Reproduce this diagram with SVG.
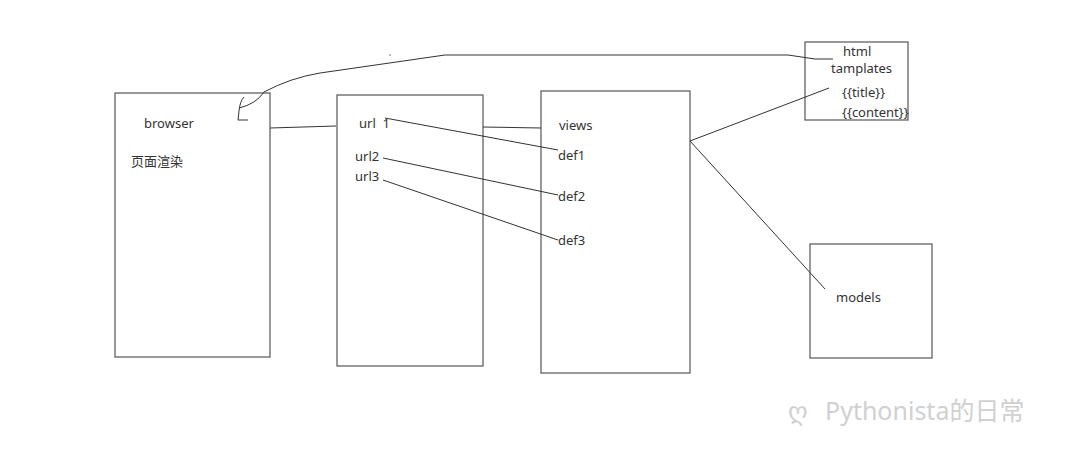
<svg xmlns="http://www.w3.org/2000/svg" width="1080" height="460" viewBox="0 0 1080 460">
<style>
.box{fill:#fff;stroke:#555;stroke-width:1.2}
.ln{fill:none;stroke:#333;stroke-width:1}
text{font-family:"Noto Sans","Noto Sans CJK SC",sans-serif;font-size:13px;fill:#333}
.wm{font-size:25px;fill:#d0d0d0}
</style>
<rect width="1080" height="460" fill="#fff"/>
<g id="browser">
<rect class="box" x="115" y="93" width="155" height="264"/>
<text x="144" y="128">browser</text>
<text x="131" y="166">页面渲染</text>
</g>
<g id="urls">
<rect class="box" x="337" y="95" width="146" height="271"/>
<text x="359" y="128" xml:space="preserve">url  1</text>
<text x="355" y="161">url2</text>
<text x="355" y="181">url3</text>
</g>
<g id="views">
<rect class="box" x="541" y="91" width="149" height="282"/>
<text x="559" y="130">views</text>
<text x="558" y="160">def1</text>
<text x="558" y="201">def2</text>
<text x="558" y="245">def3</text>
</g>
<g id="templates">
<rect class="box" x="805" y="42" width="103" height="78"/>
<text x="843" y="56" font-size="12.5">html</text>
<text x="831" y="73" font-size="12.5">tamplates</text>
<text x="842" y="97" font-size="11.5">{{title}}</text>
<text x="842" y="117" font-size="11.5">{{content}}</text>
</g>
<g id="models">
<rect class="box" x="810" y="244" width="122" height="114"/>
<text x="836" y="302">models</text>
</g>
<g id="connectors">
<path class="ln" d="M270,128 L336,126"/>
<path class="ln" d="M483,127 L541,128"/>
<path class="ln" d="M385,118 L558,150"/>
<path class="ln" d="M383,158 L558,195"/>
<path class="ln" d="M383,180 L558,240"/>
<path class="ln" d="M690,141 L829,88"/>
<path class="ln" d="M690,141 L825,289"/>
<path class="ln" d="M248,120 L238,120 L239,111 Q240,101 244,97"/>
<path class="ln" d="M239,108 Q256,104 264,92 Q290,78 320,73 L445,55 L788,55 L815,59 L833,59"/>
<circle cx="390" cy="55" r="0.8" fill="#666"/>
</g>
<g id="watermark">
<text class="wm" x="788" y="420">ღ</text>
<text class="wm" x="825" y="420">Pythonista的日常</text>
</g>
</svg>
